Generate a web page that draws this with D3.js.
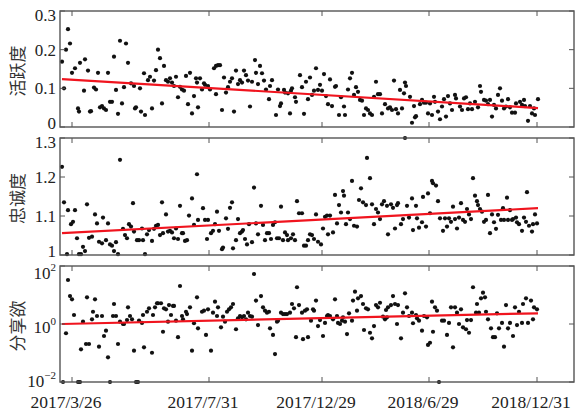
<!DOCTYPE html>
<html><head><meta charset="utf-8">
<script src="https://cdn.jsdelivr.net/npm/d3@7"></script>
<style>body{margin:0;background:#fff}</style></head>
<body>
<svg id="c" width="575" height="413"></svg>
<script>
// x = sample index, y = value
const activity = [[1,0.169],[2,0.10],[4,0.253],[3,0.20],[5,0.216],[6,0.14],[7.5,0.152],[9,0.048],[9.5,0.04],[10,0.166],[12,0.094],[12.5,0.175],[14,0.146],[15,0.04],[15.5,0.041],[17,0.102],[18,0.097],[19,0.14],[20,0.051],[21,0.054],[22,0.048],[23,0.044],[24,0.14],[25,0.065],[26,0.065],[27,0.182],[28,0.096],[29,0.034],[30,0.223],[31,0.061],[32,0.103],[33,0.216],[34,0.166],[35.5,0.113],[37,0.106],[37.5,0.048],[38,0.051],[40,0.10],[40.5,0.04],[42,0.139],[42.5,0.031],[44,0.121],[45,0.13],[46,0.048],[47,0.12],[48,0.147],[49,0.20],[50,0.178],[51,0.061],[52,0.158],[53,0.121],[54,0.117],[55,0.126],[56,0.115],[57,0.106],[58,0.13],[59,0.077],[60,0.104],[61,0.097],[62,0.094],[63,0.132],[64,0.059],[65,0.14],[66,0.035],[67,0.08],[68,0.126],[69,0.051],[68.5,0.115],[70,0.126],[72,0.113],[72.5,0.109],[71,0.097],[74,0.106],[75,0.097],[77,0.152],[78,0.158],[79,0.16],[80,0.16],[78,0.085],[81,0.044],[82,0.128],[83,0.089],[84,0.103],[85,0.117],[86,0.126],[87,0.04],[88,0.146],[89,0.111],[90,0.121],[91,0.115],[92,0.146],[93,0.134],[94,0.12],[95,0.053],[96,0.117],[97.5,0.173],[98,0.14],[99,0.111],[100,0.158],[101,0.139],[102,0.12],[103,0.097],[104.5,0.072],[105,0.106],[106,0.121],[108,0.031],[109,0.097],[110,0.054],[110.5,0.061],[112,0.096],[112.5,0.089],[114,0.087],[115,0.035],[115.5,0.094],[116,0.10],[117.5,0.077],[118,0.065],[120,0.134],[121,0.103],[122,0.034],[123,0.117],[124,0.072],[125,0.128],[126,0.083],[127,0.094],[128,0.152],[129,0.096],[130,0.109],[131,0.094],[132,0.137],[133,0.08],[134,0.059],[135,0.123],[136,0.054],[137.5,0.104],[138,0.106],[139.5,0.031],[140.5,0.077],[142,0.053],[142.5,0.031],[144,0.097],[145,0.126],[146,0.14],[147,0.083],[148,0.103],[149,0.091],[150,0.07],[151,0.068],[152,0.031],[153,0.048],[154,0.044],[155,0.035],[156,0.031],[157,0.078],[158,0.117],[159,0.085],[160,0.085],[161,0.035],[162.5,0.059],[164,0.048],[165,0.051],[166,0.044],[167,0.12],[168,0.046],[169,0.035],[170,0.096],[171,0.048],[172,0.087],[172.5,0.115],[173,0.106],[175,0.078],[176,0.011],[177,0.054],[177.5,0.025],[178,0.028],[180,0.059],[181,0.07],[182,0.063],[183,0.063],[184,0.035],[185,0.061],[186,0.031],[187,0.078],[187.5,0.065],[189,0.04],[190,0.02],[191,0.053],[192,0.072],[193,0.027],[194,0.08],[195,0.061],[196,0.044],[197.5,0.083],[198,0.074],[200,0.053],[201,0.044],[202,0.074],[203,0.077],[204,0.046],[205,0.061],[206,0.046],[207.5,0.065],[209,0.051],[210,0.106],[210.5,0.091],[212,0.07],[213,0.068],[214,0.059],[215,0.07],[216,0.027],[217,0.057],[218,0.048],[219,0.083],[220,0.10],[221,0.068],[222,0.048],[223,0.053],[224,0.072],[225,0.051],[226,0.037],[227.5,0.037],[228,0.061],[230,0.065],[231,0.057],[232,0.07],[232.5,0.054],[234,0.016],[235,0.054],[236,0.035],[237,0.048],[237.5,0.031],[239,0.072]];

const loyalty = [[1,1.226],[2,1.135],[3.5,1.002],[4,1.115],[5.5,1.079],[6.5,1.085],[7.5,1.115],[8.5,1.043],[9.5,1.002],[10.5,1.002],[11.5,1.021],[12.5,1.01],[13.5,1.13],[14.5,1.044],[16,1.047],[17.5,1.104],[18.5,1.081],[19.5,1.034],[21,1.03],[21.5,1.096],[23,1.038],[24,1.081],[25,1.027],[26,1.024],[27,1.01],[28,1.033],[29,1.002],[30,1.244],[31.5,1.067],[32.5,1.051],[33.5,1.043],[34.5,1.079],[35.5,1.073],[36.5,1.133],[37,1.06],[38.5,1.038],[39.5,1.038],[41,1.068],[41.5,1.038],[42.5,1.002],[43.5,1.053],[44.5,1.064],[46,1.036],[47,1.067],[48,1.075],[49,1.077],[50,1.051],[51,1.135],[51.5,1.056],[53,1.104],[54,1.06],[55,1.062],[56,1.058],[57,1.043],[58,1.068],[59,1.041],[60,1.126],[61,1.056],[61.5,1.056],[62.5,1.036],[63.5,1.038],[64.5,1.101],[66,1.145],[67,1.077],[68.5,1.207],[69,1.09],[71.5,1.12],[72.5,1.09],[73.5,1.041],[74,1.09],[75.5,1.056],[76.5,1.062],[77.5,1.079],[78.5,1.111],[79.5,1.062],[81,1.015],[81.5,1.019],[83,1.094],[84,1.067],[85,1.121],[86,1.135],[86.5,1.017],[88,1.038],[89,1.092],[90,1.056],[91,1.06],[91.5,1.064],[92.5,1.041],[93.5,1.027],[94.5,1.079],[96,1.033],[97,1.173],[98,1.081],[99,1.053],[100.5,1.126],[101.5,1.077],[102.5,1.038],[103.5,1.056],[104.5,1.056],[105.5,1.041],[106.5,1.077],[107.5,1.084],[108.5,1.043],[109.5,1.043],[110.5,1.124],[111.5,1.038],[112.5,1.058],[113.5,1.051],[114,1.038],[115.5,1.043],[116.5,1.053],[117.5,1.038],[118.5,1.138],[119.5,1.107],[121,1.107],[122,1.024],[123,1.024],[124,1.038],[125,1.053],[126,1.051],[127,1.041],[128,1.104],[129,1.034],[130.5,1.027],[131.5,1.068],[132.5,1.098],[133.5,1.101],[134,1.053],[135,1.101],[136.5,1.058],[137.5,1.154],[138.5,1.081],[139.5,1.128],[140.5,1.109],[141.5,1.164],[142,1.152],[143,1.079],[144,1.109],[145,1.092],[146,1.19],[147,1.075],[148.5,1.073],[149.5,1.141],[150.5,1.171],[151.5,1.135],[153,1.128],[153.5,1.249],[155,1.197],[156,1.13],[157,1.079],[158,1.118],[159,1.109],[160,1.092],[161,1.13],[162,1.138],[163.5,1.126],[164,1.053],[165.5,1.13],[166.5,1.121],[167.5,1.068],[168.5,1.128],[169,1.133],[170.5,1.079],[171.5,1.092],[172.5,1.3],[173.5,1.126],[174.5,1.096],[176,1.145],[176.5,1.064],[178,1.126],[178.5,1.094],[179.5,1.07],[181,1.084],[181.5,1.149],[183,1.073],[184,1.158],[185,1.107],[186,1.19],[186.5,1.184],[188,1.178],[189,1.138],[190,1.094],[191.5,1.062],[192.5,1.094],[193.5,1.073],[194.5,1.094],[195.5,1.085],[196.5,1.124],[197.5,1.092],[198.5,1.068],[199.5,1.096],[200.5,1.133],[201.5,1.09],[202.5,1.085],[203.5,1.118],[204.5,1.104],[205.5,1.092],[206.5,1.197],[207.5,1.152],[208.5,1.138],[209,1.128],[210,1.118],[211,1.111],[212,1.085],[213,1.09],[214,1.154],[215,1.056],[216,1.104],[217,1.084],[218,1.067],[219,1.103],[220.5,1.09],[221.5,1.12],[222,1.09],[223.5,1.147],[224,1.09],[225,1.115],[226,1.09],[226.5,1.092],[228,1.096],[228.5,1.084],[229.5,1.079],[231,1.062],[232,1.096],[233,1.085],[233.5,1.161],[234.5,1.075],[236,1.06],[236.5,1.079],[237.5,1.104],[238.5,1.081]];

const sharing = [[1.5,0.01],[4,32.9],[5,9.2],[6,7.1],[7,2.04],[3,0.48],[9,0.01],[10,0.01],[10.5,0.134],[11.5,1.2],[13,0.204],[13.5,8.3],[14.5,0.204],[16,1.45],[16.5,2.65],[17.5,7.1],[18.5,1.89],[19.5,0.165],[21,1.89],[22,0.385],[23,0.59],[24,0.071],[25,0.01],[26.5,1.89],[27,4.9],[28,1.89],[29,0.204],[30,1.2],[31.5,1.0],[32,1.0],[33.5,1.37],[34,3.77],[35,1.89],[36,1.45],[37,0.12],[38,0.01],[39,0.01],[39.5,1.3],[41,1.09],[41.5,2.04],[42,0.157],[43.5,2.65],[44.5,3.47],[46,0.102],[46.5,2.04],[47.5,3.77],[48.5,5.2],[49,5.2],[50.5,5.2],[51.5,0.54],[52,3.47],[53,3.2],[54,1.2],[54.5,4.5],[55.5,2.04],[56.5,4.2],[57,4.2],[58,1.3],[59,0.35],[60,20.4],[61,1.89],[61.5,1.45],[63,2.65],[63.5,2.2],[65,3.77],[66,0.12],[67,1.06],[68.5,8.3],[69,0.71],[71,2.65],[72,2.88],[73,0.42],[74,3.2],[75.5,0.12],[76.5,2.45],[77.5,5.9],[78.5,1.89],[79,3.77],[80.5,0.77],[81.5,1.79],[82.5,1.2],[83.5,2.65],[84.5,3.2],[85.5,3.77],[86.5,4.9],[88,0.66],[89,1.57],[90,1.89],[91,1.7],[92,1.89],[93,1.45],[94,2.45],[95,1.89],[96,1.79],[97,53],[98,6.4],[99,0.92],[100.5,9.2],[101.5,3.77],[102.5,2.88],[103.5,2.45],[104.5,2.65],[105,0.71],[106.5,0.42],[107.5,0.092],[108.5,1.2],[109,1.3],[110.5,2.45],[111.5,2.2],[112.5,2.2],[113.5,2.2],[115,2.45],[116,4.9],[117,3.47],[118,0.35],[118.5,18.5],[119.5,4.5],[121,2.45],[121.5,0.3],[122.5,2.88],[123.5,3.2],[124,0.35],[125.5,1.3],[126.5,3.2],[127,2.88],[128,6.4],[129,0.85],[130,1.37],[131.5,0.385],[132.5,1.09],[133.5,1.89],[134,2.04],[135,1.89],[136.5,1.45],[137.5,7.1],[138.5,1.89],[139,1.09],[140,1.0],[141,1.3],[141.5,1.7],[142.5,1.2],[143.5,0.45],[144.5,2.34],[146,1.3],[146.5,6.4],[147.5,13],[148.5,2.88],[149,7.7],[150.5,9.2],[151.5,4.9],[152,0.62],[153,3.47],[154,3.2],[155,0.5],[156,0.32],[157,0.85],[158,4.5],[159,3.77],[160,5.4],[161.5,1.79],[162.5,1.45],[163,3.04],[163.5,1.7],[164,3.77],[165.5,4.5],[166.5,9.2],[167.5,4.9],[168.5,1.0],[169,4.5],[170.5,0.32],[171.5,2.45],[172.5,11.4],[173.5,3.77],[174.5,1.89],[176,2.45],[176.5,1.06],[178,2.04],[178.5,1.57],[179.5,1.3],[181,0.59],[182,1.89],[183.5,1.7],[184,0.19],[185,0.226],[186,5.9],[186.5,0.54],[187.5,3.77],[188.5,2.88],[189.5,0.01],[191,1.3],[192,1.3],[193.5,0.42],[194.5,1.09],[195.5,3.77],[196.5,0.157],[197.5,3.77],[198.5,2.45],[199.5,1.0],[200.5,3.2],[201.5,0.77],[203,0.66],[203.5,1.37],[204.5,0.5],[205.5,1.37],[206.5,18.5],[208,2.45],[208.5,4.9],[209.5,2.45],[210.5,7.7],[211.5,12],[212.5,8.3],[213,2.65],[214,1.45],[215.5,0.71],[216.5,0.35],[217.5,0.35],[218.5,2.34],[219.5,0.71],[221,1.09],[222,0.165],[223,4.5],[224,0.71],[225,1.09],[226.5,0.385],[227.5,3.77],[228.5,0.92],[229.5,2.65],[231,1.09],[231.5,4.9],[233,7.7],[234,1.09],[235.5,6.4],[236.5,1.45],[237,3.77],[238.5,3.2]];

const activityTrend = [[1,0.124],[239,0.049]];
const loyaltyTrend = [[1,1.056],[239,1.12]];
const sharingTrend = [[1,1.0],[239,2.34]];

const panelTitles = ["活跃度","忠诚度","分享欲"];
const activityTicks = [0,0.1,0.2,0.3];
const activityTickLabels = ["0","0.1","0.2","0.3"];
const loyaltyTicks = [1,1.1,1.2,1.3];
const loyaltyTickLabels = ["1","1.1","1.2","1.3"];
const sharingTicks = [0.01,1,100];
const sharingTickExps = ["\u22122","0","2"];

const xTicks = [6,74.5,131,184.5,238.5];
const xTickLabels = ["2017/3/26","2017/7/31","2017/12/29","2018/6/29","2018/12/31"];

const svg = d3.select("#c");
const L = 60, R = 574;
const x = d3.scaleLinear().domain([0,257]).range([L,R]);

const panels = [
  {title:panelTitles[0], data:activity, trend:activityTrend,
   y:d3.scaleLinear().domain([0,0.3]).range([127,11]), ticks:activityTicks, labels:activityTickLabels},
  {title:panelTitles[1], data:loyalty, trend:loyaltyTrend,
   y:d3.scaleLinear().domain([1,1.3]).range([255,138]), ticks:loyaltyTicks, labels:loyaltyTickLabels},
  {title:panelTitles[2], data:sharing, trend:sharingTrend,
   y:d3.scaleLog().domain([0.01,100]).range([382,266]), ticks:sharingTicks, exps:sharingTickExps}
];

const tickLen = 5;
const serif = "'Liberation Serif','DejaVu Serif',serif";

panels.forEach((p, pi) => {
  const [yb, yt] = p.y.range();
  const g = svg.append("g");
  // points
  g.append("g").selectAll("circle").data(p.data).join("circle")
    .attr("cx", d => x(d[0])).attr("cy", d => p.y(d[1]))
    .attr("r", 2.1).attr("fill", "#111");
  // trend line
  g.append("path").datum(p.trend)
    .attr("d", d3.line().x(d => x(d[0])).y(d => p.y(d[1])))
    .attr("fill", "none").attr("stroke", "#f0141e").attr("stroke-width", 2.2);
  // frame
  g.append("rect").attr("x", L).attr("y", yt).attr("width", R - L).attr("height", yb - yt)
    .attr("fill", "none").attr("stroke", "#555").attr("stroke-width", 1.4);
  // x ticks top & bottom
  xTicks.forEach(t => {
    g.append("line").attr("x1", x(t)).attr("x2", x(t)).attr("y1", yb).attr("y2", yb - tickLen)
      .attr("stroke", "#555").attr("stroke-width", 1);
    g.append("line").attr("x1", x(t)).attr("x2", x(t)).attr("y1", yt).attr("y2", yt + tickLen)
      .attr("stroke", "#555").attr("stroke-width", 1);
  });
  // y ticks & labels
  p.ticks.forEach((t, i) => {
    const yy = p.y(t);
    g.append("line").attr("x1", L).attr("x2", L + tickLen).attr("y1", yy).attr("y2", yy)
      .attr("stroke", "#555").attr("stroke-width", 1);
    g.append("line").attr("x1", R).attr("x2", R - tickLen).attr("y1", yy).attr("y2", yy)
      .attr("stroke", "#555").attr("stroke-width", 1);
    const ly = Math.max(yt + 4, Math.min(yb - 4, yy));
    const txt = g.append("text").attr("x", 56).attr("y", ly + 6)
      .attr("text-anchor", "end").attr("font-family", serif).attr("font-size", 17).attr("fill", "#222");
    if (p.exps) {
      txt.attr("y", ly + 9);
      txt.append("tspan").text("10");
      txt.append("tspan").attr("dy", -8).attr("font-size", 11).text(p.exps[i]);
    } else {
      txt.text(p.labels[i]);
    }
  });
  // title
  const cy = (yt + yb) / 2 + 2;
  g.append("text").attr("transform", `translate(24,${cy}) rotate(-90)`)
    .attr("text-anchor", "middle").attr("font-family", "'Noto Sans CJK SC',sans-serif")
    .attr("font-size", 17).attr("fill", "#333").text(p.title);
});

// x tick labels
svg.append("g").selectAll("text").data(xTicks).join("text")
  .attr("x", d => x(d) - 6).attr("y", 408).attr("text-anchor", "middle")
  .attr("font-family", serif).attr("font-size", 17.5).attr("fill", "#222")
  .text((d, i) => xTickLabels[i]);
</script>
</body></html>
